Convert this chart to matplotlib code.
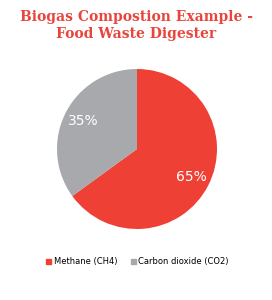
import matplotlib
matplotlib.use("Agg")
import matplotlib.pyplot as plt
from matplotlib.patches import Patch

labels = ["Methane (CH4)", "Carbon dioxide (CO2)"]
values = [65, 35]
colors = ["#ee4035", "#a7a9ac"]

fig = plt.figure(figsize=(2.72, 3.0), dpi=100)
fig.patch.set_facecolor("white")

fig.text(0.5, 0.915, "Biogas Compostion Example -\nFood Waste Digester",
         ha="center", va="center", fontsize=10, color="#e8453c",
         family="DejaVu Serif", weight="bold", linespacing=1.35)

# pie: centre ~ (137,149) px, radius ~80 px
ax = fig.add_axes([(137 - 80) / 272, (300 - 229) / 300, 160 / 272, 160 / 300])
wedges, _, autotexts = ax.pie(values, colors=colors, startangle=90, counterclock=False,
                              autopct="%d%%", pctdistance=0.76,
                              wedgeprops=dict(linewidth=0))
for t in autotexts:
    t.set_color("white")
    t.set_fontsize(10)
ax.set_xlim(-1, 1)
ax.set_ylim(-1, 1)
ax.set_aspect("equal")

handles = [Patch(color=c, label=l) for c, l in zip(colors, labels)]
fig.legend(handles=handles, loc="center", bbox_to_anchor=(0.505, 0.127), ncol=2,
           frameon=False, fontsize=6, handlelength=0.6, handleheight=0.6,
           handletextpad=0.3, columnspacing=1.6)

fig.savefig("out.png", dpi=100)
